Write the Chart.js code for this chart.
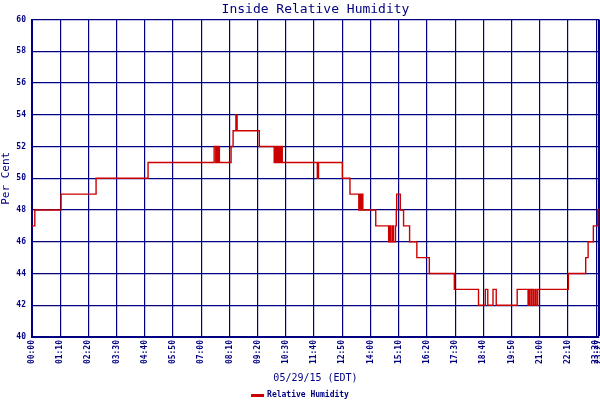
<!DOCTYPE html>
<html>
<head>
<meta charset="utf-8">
<script src="https://cdn.jsdelivr.net/npm/chart.js@4"></script>
<style>
  body { margin: 0; background: #fff; }
  #wrap { width: 600px; height: 400px; }
</style>
</head>
<body>
<div id="wrap"><canvas id="humChart" width="600" height="400"></canvas></div>
<script>
// Readings: time of change (EDT) and the humidity from then on
const times = ['00:00','00:07','01:12','02:39','04:48','07:32','07:36','07:38','07:41','07:43','07:45',
  '08:14','08:19','08:26','08:29','09:24','10:01','10:03','10:06','10:08','10:11','10:13','10:16','10:18','10:21',
  '11:48','11:51','12:50','13:09','13:31','13:34','13:37','13:39','13:41','14:13','14:45','14:48','14:51','14:55',
  '14:57','15:02','15:04','15:05','15:14','15:22','15:37','15:55','16:26','17:28','18:28','18:45','18:51','19:04',
  '19:12','20:04','20:31','20:34','20:38','20:41','20:45','20:49','20:51','20:55','22:11','22:54','23:00','23:13',
  '23:24','23:27'];
const humidity = [47,48,49,50,51,52,51,52,51,52,51,
  52,53,54,53,52,51,52,51,52,51,52,51,52,51,
  50,51,50,49,48,49,48,49,48,47,46,47,46,47,
  46,47,48,49,48,47,46,45,44,43,42,43,42,43,
  42,43,42,43,42,43,42,43,42,43,44,45,46,47,
  48,48];
const tickTimes = ['00:00','01:10','02:20','03:30','04:40','05:50','07:00','08:10','09:20','10:30','11:40',
  '12:50','14:00','15:10','16:20','17:30','18:40','19:50','21:00','22:10','23:20','23:27'];

const navy = '#000080';
const toMin = t => { const p = t.split(':'); return (+p[0]) * 60 + (+p[1]); };
const toLabel = m => String(Math.floor(m / 60)).padStart(2, '0') + ':' + String(m % 60).padStart(2, '0');
const endMin = toMin(times[times.length - 1]);

const points = times.map((t, i) => ({ x: toMin(t), y: humidity[i] }));

// title centred over the plot area, legend line + label under the axis title
const layoutFix = {
    id: 'layoutFix',
    afterLayout(chart) {
        const tb = chart.titleBlock;
        if (tb) { tb.left = chart.chartArea.left; tb.right = chart.chartArea.right; tb.width = tb.right - tb.left; }
    },
    afterDraw(chart) {
        const ds = chart.data.datasets[0];
        const c = chart.ctx;
        c.save();
        c.font = 'bold 8px "DejaVu Sans Mono"';
        const tw = c.measureText(ds.label).width;
        const x0 = (chart.width - (13 + 3 + tw)) / 2;
        const y = 395;
        c.fillStyle = ds.borderColor;
        c.fillRect(x0, y - 1, 13, 3);
        c.fillStyle = navy;
        c.textBaseline = 'middle';
        c.fillText(ds.label, x0 + 16, y);
        c.restore();
    }
};

new Chart(document.getElementById('humChart').getContext('2d'), {
    type: 'line',
    data: {
        datasets: [{
            label: 'Relative Humidity',
            data: points,
            stepped: true,
            borderColor: '#cc0000',
            backgroundColor: '#cc0000',
            borderWidth: 1.4,
            pointRadius: 0,
            fill: false
        }]
    },
    plugins: [layoutFix],
    options: {
        responsive: false,
        animation: false,
        devicePixelRatio: 1,
        layout: { padding: { left: 0, right: 1, top: 0, bottom: 0 } },
        plugins: {
            title: {
                display: true,
                text: 'Inside Relative Humidity',
                color: navy,
                font: { family: 'DejaVu Sans Mono', size: 13, weight: 'normal' },
                padding: { top: 2, bottom: 2 }
            },
            legend: { display: false },
            tooltip: { enabled: false }
        },
        scales: {
            x: {
                type: 'linear',
                min: 0,
                max: endMin,
                afterBuildTicks: function(scale) {
                    scale.ticks = tickTimes.map(t => ({ value: toMin(t) }));
                },
                afterFit: function(scale) {
                    scale.height = 400 - 337;
                    scale.paddingLeft = 0;
                    scale.paddingRight = 0;
                },
                ticks: {
                    color: navy,
                    font: { family: 'DejaVu Sans Mono', size: 8, weight: 'bold' },
                    minRotation: 90,
                    maxRotation: 90,
                    autoSkip: false,
                    padding: 3,
                    callback: v => toLabel(v)
                },
                grid: {
                    color: navy,
                    lineWidth: ctx => (ctx.tick && ctx.tick.value === endMin) ? 2.5 : 1.2,
                    drawTicks: false
                },
                border: { color: navy, width: 2 },
                title: {
                    display: true,
                    text: '05/29/15 (EDT)',
                    color: navy,
                    font: { family: 'DejaVu Sans Mono', size: 10 },
                    padding: { top: 0, bottom: 16 }
                }
            },
            y: {
                min: 40,
                max: 60,
                afterFit: function(scale) { scale.width = 32; },
                ticks: {
                    stepSize: 2,
                    color: navy,
                    font: { family: 'DejaVu Sans Mono', size: 8, weight: 'bold' },
                    padding: 6
                },
                grid: { color: navy, lineWidth: 1.2, drawTicks: false },
                border: { color: navy, width: 2 },
                title: {
                    display: true,
                    text: 'Per Cent',
                    color: navy,
                    font: { family: 'DejaVu Sans Mono', size: 11 },
                    padding: 0
                }
            }
        }
    }
});
</script>
</body>
</html>
